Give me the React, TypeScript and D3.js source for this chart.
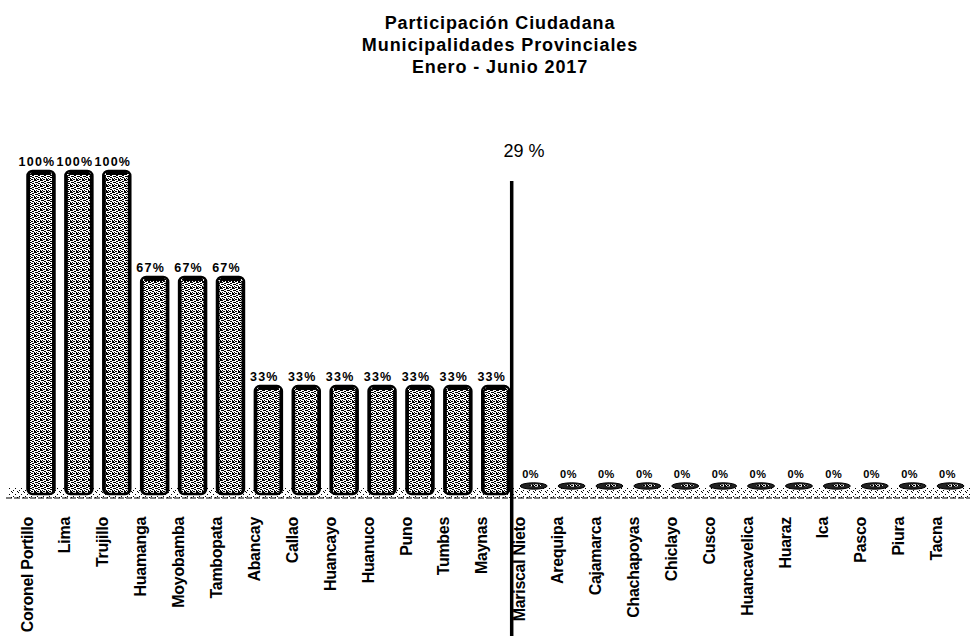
import React from 'react';
import * as d3 from 'd3';

const categories = [
  'Coronel Portillo', 'Lima', 'Trujillo', 'Huamanga', 'Moyobamba', 'Tambopata',
  'Abancay', 'Callao', 'Huancayo', 'Huanuco', 'Puno', 'Tumbes', 'Maynas',
  'Mariscal Nieto', 'Arequipa', 'Cajamarca', 'Chachapoyas', 'Chiclayo', 'Cusco',
  'Huancavelica', 'Huaraz', 'Ica', 'Pasco', 'Piura', 'Tacna',
];
const values = [100, 100, 100, 67, 67, 67, 33, 33, 33, 33, 33, 33, 33, 0, 0, 0, 0, 0, 0, 0, 0, 0, 0, 0, 0];
const averageLabel = '29 %';
const titleLines = ['Participación Ciudadana', 'Municipalidades Provinciales', 'Enero - Junio 2017'];

const W = 970;
const H = 636;
const FONT = '"Liberation Sans", Arial, sans-serif';

// stipple dots for the dithered fill
const dots: [number, number][] = [
  [0, 0], [2, 1], [4, 0], [1, 2], [3, 3], [5, 2], [0, 4], [2, 5], [4, 4], [5, 5], [1, 5], [3, 1],
  [5, 0], [0, 2], [2, 3], [4, 5],
];
const floorDots: [number, number][] = [[0, 0], [3, 2], [5, 5], [1, 4]];

const App: React.FC = () => {
  const x = d3.scaleBand<string>()
    .domain(categories)
    .range([27.5, 964])
    .paddingInner(0.288)
    .paddingOuter(0);

  const y = d3.scaleLinear().domain([0, 100]).range([492, 171]);
  const bw = x.bandwidth();
  const splitX = (x('Maynas')! + bw + x('Mariscal Nieto')!) / 2 - 3;

  return (
    <div style={{ position: 'absolute', left: 0, top: 0 }}>
      <svg width={W} height={H} style={{ display: 'block', background: '#fff' }}>
        <defs>
          <pattern id="stipple" width={6} height={6} patternUnits="userSpaceOnUse">
            <rect width={6} height={6} fill="#fff" />
            {dots.map(([dx, dy], i) => (
              <rect key={i} x={dx} y={dy} width={1} height={1} fill="#000" />
            ))}
          </pattern>
          <pattern id="floorStipple" width={6} height={6} patternUnits="userSpaceOnUse">
            <rect width={6} height={6} fill="#fff" />
            {floorDots.map(([dx, dy], i) => (
              <rect key={i} x={dx} y={dy} width={1} height={1} fill="#000" />
            ))}
          </pattern>
        </defs>

        {/* title */}
        <g fontFamily={FONT} fontWeight="bold" fontSize={18} textAnchor="middle" letterSpacing={0.9}>
          {titleLines.map((t, i) => (
            <text key={t} x={500} y={29 + i * 22}>{t}</text>
          ))}
        </g>

        {/* floor */}
        <rect x={8} y={487} width={962} height={11} fill="url(#floorStipple)" />
        <line x1={6} x2={970} y1={498} y2={498} stroke="#000" strokeWidth={1.2} strokeDasharray="6 2" />

        {/* bars */}
        {categories.map((c, i) => {
          const v = values[i];
          const x0 = x(c)!;
          const cx = x0 + bw / 2;
          if (v === 0) {
            return (
              <g key={c}>
                <ellipse cx={cx} cy={486} rx={bw / 2} ry={3.2} fill="#222" stroke="#000" strokeWidth={1} />
                <ellipse cx={cx + 2} cy={485.5} rx={bw / 4} ry={1.2} fill="url(#stipple)" />
              </g>
            );
          }
          const top = y(v);
          return (
            <g key={c}>
              <rect x={x0} y={top} width={bw} height={y(0) - top + 2} rx={5} ry={5}
                fill="url(#stipple)" stroke="#000" strokeWidth={2.5} />
              <line x1={x0 + 1.5} x2={x0 + 1.5} y1={top + 4} y2={y(0)} stroke="#000" strokeWidth={2} />
              <line x1={x0 + bw - 1.5} x2={x0 + bw - 1.5} y1={top + 4} y2={y(0)} stroke="#000" strokeWidth={2} />
              <rect x={x0 + 3} y={top + 1} width={bw - 6} height={3} fill="#000" rx={1.5} />
            </g>
          );
        })}

        {/* value labels */}
        <g fontFamily={FONT} fontWeight="bold" textAnchor="middle">
          {categories.map((c, i) => {
            const cx = x(c)! + bw / 2;
            const v = values[i];
            return v === 0 ? (
              <text key={c} x={cx - 3} y={478} fontSize={11} letterSpacing={0.5}>{`${v}%`}</text>
            ) : (
              <text key={c} x={cx - 4} y={y(v) - 5} fontSize={12.5} letterSpacing={1.2}>{`${v}%`}</text>
            );
          })}
        </g>

        {/* category labels */}
        <g fontFamily={FONT} fontWeight="bold" fontSize={16} letterSpacing={-0.3} textAnchor="end">
          {categories.map((c) => {
            const cx = x(c)! + bw / 2;
            return (
              <text key={c} transform={`translate(${cx - 14},517) rotate(-90)`} dy="0.35em">{c}</text>
            );
          })}
        </g>

        {/* average marker */}
        <line x1={splitX} x2={splitX} y1={181} y2={H} stroke="#000" strokeWidth={3.5} />
        <text x={524} y={157} fontFamily={FONT} fontSize={18} textAnchor="middle">{averageLabel}</text>
      </svg>
    </div>
  );
};

export default App;
